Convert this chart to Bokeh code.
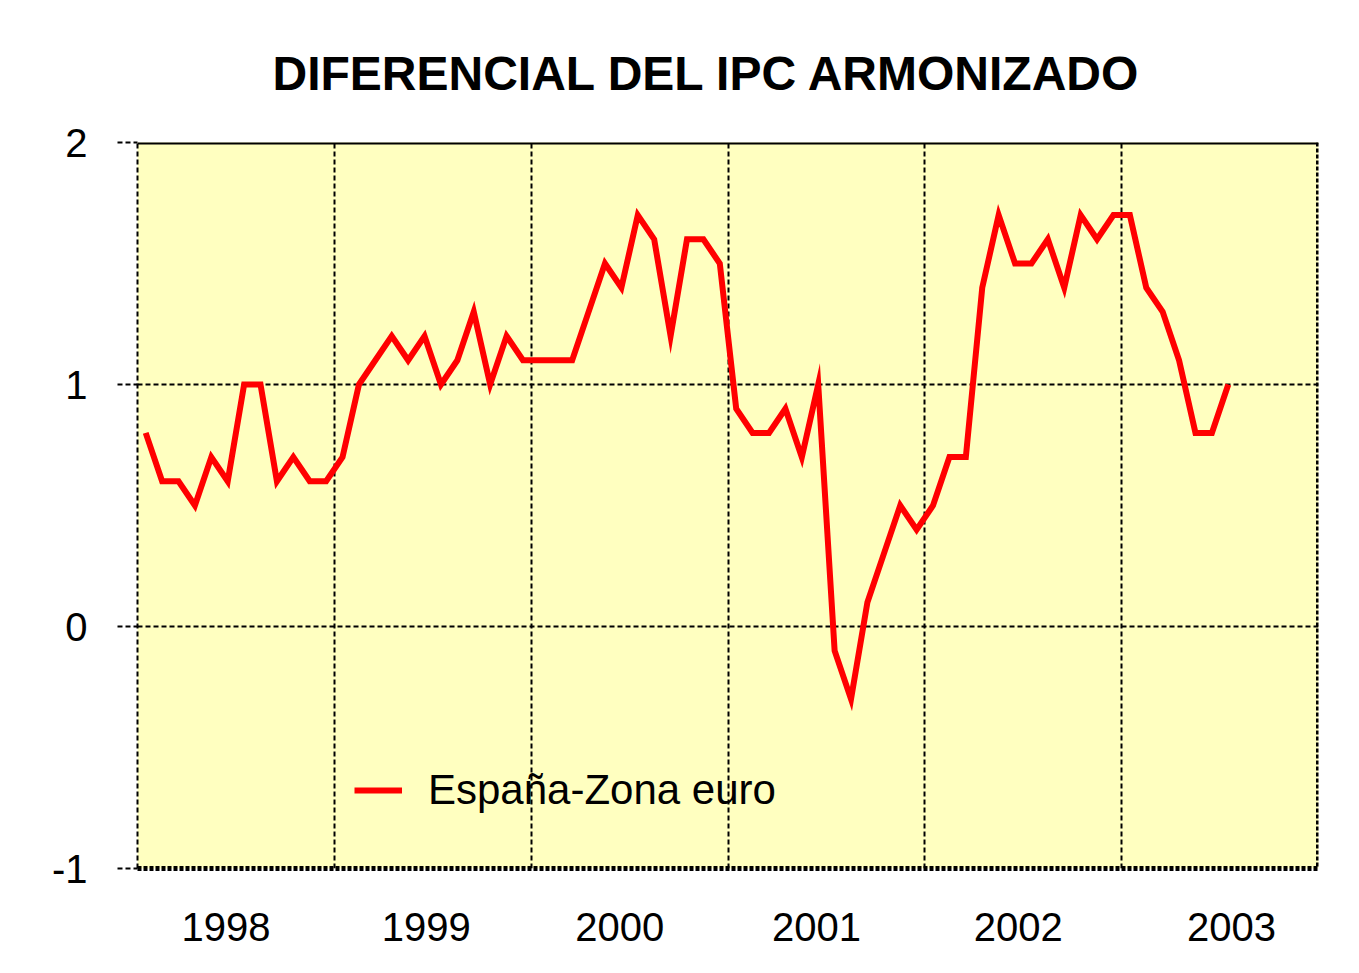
from bokeh.plotting import figure
from bokeh.models import (FixedTicker, Span, Legend, LegendItem, Title, ColumnDataSource)
from bokeh.embed import file_html
from bokeh.resources import INLINE

# ---- data ----
title_text = "DIFERENCIAL DEL IPC ARMONIZADO"
series_name = "España-Zona euro"
years = ["1998", "1999", "2000", "2001", "2002", "2003"]
# monthly values, Jan 1998 .. Jul 2003
values = [
    0.8, 0.6, 0.6, 0.5, 0.7, 0.6, 1.0, 1.0, 0.6, 0.7, 0.6, 0.6,   # 1998
    0.7, 1.0, 1.1, 1.2, 1.1, 1.2, 1.0, 1.1, 1.3, 1.0, 1.2, 1.1,   # 1999
    1.1, 1.1, 1.1, 1.3, 1.5, 1.4, 1.7, 1.6, 1.2, 1.6, 1.6, 1.5,   # 2000
    0.9, 0.8, 0.8, 0.9, 0.7, 1.0, -0.1, -0.3, 0.1, 0.3, 0.5, 0.4,  # 2001
    0.5, 0.7, 0.7, 1.4, 1.7, 1.5, 1.5, 1.6, 1.4, 1.7, 1.6, 1.7,   # 2002
    1.7, 1.4, 1.3, 1.1, 0.8, 0.8, 1.0,                           # 2003
]
months = list(range(len(values)))
y_ticks = [-1, 0, 1, 2]
y_labels = ["-1", "0", "1", "2"]

FONT = "Liberation Sans"

p = figure(width=1351, height=965, output_backend="svg", toolbar_location=None,
           x_range=(-0.5, 71.5), y_range=(-1, 2),
           min_border_left=137, min_border_right=33, min_border_top=142,
           min_border_bottom=97)
p.background_fill_color = "#FFFFC0"
p.border_fill_color = "white"
p.outline_line_color = None

# title
t = Title(text=title_text, align="left", offset=135, text_font=FONT,
          text_font_size="48px", text_font_style="bold", text_color="black",
          standoff=81, vertical_align="top")
p.title = t

src = ColumnDataSource(dict(x=months, y=values))
r = p.line("x", "y", source=src, line_color="#FF0000", line_width=6,
           line_join="miter")

# axes
yax = p.yaxis[0]
yax.ticker = FixedTicker(ticks=y_ticks)
yax.major_label_overrides = {t_: l_ for t_, l_ in zip(y_ticks, y_labels)}
yax.major_label_text_font = FONT
yax.major_label_text_font_size = "40px"
yax.major_label_text_color = "black"
yax.major_tick_out = 20
yax.major_tick_in = 0
yax.major_tick_line_width = 2
yax.major_tick_line_dash = "5 3"
yax.major_tick_line_color = "black"
yax.minor_tick_line_color = None
yax.axis_line_color = "black"
yax.axis_line_width = 2
yax.axis_line_dash = "5 3"
yax.major_label_standoff = 30

year_pos = [4.9, 17.1, 28.9, 40.9, 53.2, 66.2]
xax = p.xaxis[0]
xax.ticker = FixedTicker(ticks=year_pos)
xax.major_label_overrides = {pos: yr for pos, yr in zip(year_pos, years)}
xax.major_label_text_font = FONT
xax.major_label_text_font_size = "40px"
xax.major_label_text_color = "black"
xax.major_tick_line_color = None
xax.minor_tick_line_color = None
xax.axis_line_color = "black"
xax.axis_line_width = 5
xax.axis_line_dash = "4 2"
xax.major_label_standoff = 38

# grids
p.xgrid.ticker = FixedTicker(ticks=[11.5, 23.5, 35.5, 47.5, 59.5])
p.ygrid.ticker = FixedTicker(ticks=[0, 1])
for g in (p.xgrid[0], p.ygrid[0]):
    g.grid_line_color = "black"
    g.grid_line_width = 2
    g.grid_line_dash = "5 3"

# frame borders
p.add_layout(Span(location=2, dimension="width", line_color="black", line_width=4))
p.add_layout(Span(location=71.5, dimension="height", line_color="black",
                  line_width=5, line_dash="4 2"))

legend = Legend(items=[LegendItem(label=series_name, renderers=[r])],
                location=(217, 54), background_fill_alpha=0, border_line_color=None,
                label_text_font=FONT, label_text_font_size="42px",
                label_text_color="black",
                glyph_width=48, glyph_height=40, label_standoff=26,
                padding=10, margin=0)
p.add_layout(legend)

open("out.html", "w").write(file_html(p, INLINE))
